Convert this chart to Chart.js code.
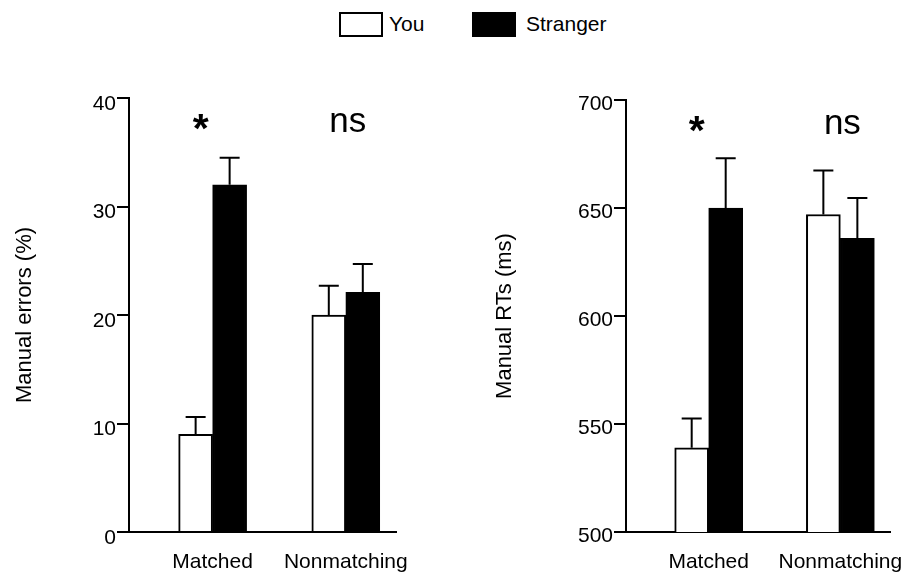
<!DOCTYPE html>
<html>
<head>
<meta charset="utf-8">
<script src="https://cdn.jsdelivr.net/npm/chart.js@4.4.1/dist/chart.umd.min.js"></script>
<style>
  body { margin: 0; background: #fff; overflow: hidden; }
  #wrap { position: relative; width: 908px; height: 573px; font-family: "Liberation Sans", Arial, sans-serif; }
  canvas { position: absolute; top: 0; }
  #left { left: 0; }
  #right { left: 454px; }
  .key { position: absolute; top: 12px; width: 40px; height: 21px; border: 2px solid #000; }
  .keyText { position: absolute; top: 11px; font-size: 21px; color: #000; line-height: 26px; }
</style>
</head>
<body>
<div id="wrap">
  <div class="key" style="left:339px; background:#fff;"></div>
  <div class="keyText" style="left:389px;">You</div>
  <div class="key" style="left:472px; background:#000;"></div>
  <div class="keyText" style="left:526px;">Stranger</div>
  <canvas id="left" width="454" height="573"></canvas>
  <canvas id="right" width="454" height="573"></canvas>
</div>
<script>
// data
const categories = ['Matched', 'Nonmatching'];
const seriesNames = ['You', 'Stranger'];

const errorsYou = [9.0, 20.0];
const errorsStranger = [32.0, 22.1];
const errorsYouSem = [1.6, 2.7];
const errorsStrangerSem = [2.5, 2.6];

const rtYou = [539, 647];
const rtStranger = [650, 636];
const rtYouSem = [13.5, 20.4];
const rtStrangerSem = [23.0, 18.6];

const sigMarks = ['*', 'ns'];

const FONT = '"Liberation Sans", Arial, sans-serif';

function points(values) {
    return values.map((v, i) => ({ x: i + 1, y: v }));
}

// draws the upward error bars with caps
const errorBars = {
    id: 'errorBars',
    afterDatasetsDraw(chart) {
        const ctx = chart.ctx;
        const yScale = chart.scales.y;
        ctx.save();
        ctx.strokeStyle = '#000';
        ctx.lineWidth = 2;
        chart.data.datasets.forEach((ds, di) => {
            const meta = chart.getDatasetMeta(di);
            meta.data.forEach((bar, i) => {
                const top = yScale.getPixelForValue(ds.data[i].y + ds.sem[i]);
                ctx.beginPath();
                ctx.moveTo(bar.x, bar.y);
                ctx.lineTo(bar.x, top);
                ctx.moveTo(bar.x - 10, top);
                ctx.lineTo(bar.x + 10, top);
                ctx.stroke();
            });
        });
        ctx.restore();
    }
};

// "*" and "ns" above each group
const sigLabels = {
    id: 'sigLabels',
    afterDraw(chart) {
        const ctx = chart.ctx;
        const xScale = chart.scales.x;
        const top = chart.chartArea.top;
        ctx.save();
        ctx.fillStyle = '#000';
        ctx.textAlign = 'center';
        ctx.textBaseline = 'alphabetic';
        sigMarks.forEach((m, i) => {
            const x = xScale.getPixelForValue(i + 1);
            if (m === '*') {
                ctx.font = 'bold 41px ' + FONT;
                ctx.fillText(m, x - 12, top + 44);
            } else {
                ctx.font = '35px ' + FONT;
                ctx.fillText(m, x + 2, top + 34);
            }
        });
        ctx.restore();
    }
};

function makeChart(id, you, stranger, youSem, strangerSem, yOpts) {
    new Chart(document.getElementById(id), {
        type: 'bar',
        data: {
            datasets: [
                {
                    label: seriesNames[0],
                    data: points(you),
                    sem: youSem,
                    backgroundColor: '#fff',
                    borderColor: '#000',
                    borderWidth: 2
                },
                {
                    label: seriesNames[1],
                    data: points(stranger),
                    sem: strangerSem,
                    backgroundColor: '#000',
                    borderColor: '#000',
                    borderWidth: 2
                }
            ]
        },
        options: {
            responsive: false,
            animation: false,
            barThickness: 34,
            layout: { padding: { top: yOpts.top, right: yOpts.right, left: 0, bottom: 0 } },
            plugins: {
                legend: { display: false },
                tooltip: { enabled: false }
            },
            scales: {
                x: {
                    type: 'linear',
                    offset: false,
                    bounds: 'data',
                    min: 0.372,
                    max: 2.377,
                    z: 1,
                    afterBuildTicks(scale) {
                        scale.ticks = categories.map((c, i) => ({ value: i + 1 }));
                    },
                    afterFit(scale) {
                        scale.height = 41;
                        scale.paddingLeft = 0;
                        scale.paddingRight = 0;
                    },
                    grid: { display: false, drawTicks: false },
                    border: { display: true, color: '#000', width: 2 },
                    ticks: {
                        autoSkip: false,
                        maxRotation: 0,
                        padding: 18,
                        color: '#000',
                        font: { family: FONT, size: 21 },
                        callback: (v) => categories[v - 1]
                    }
                },
                y: {
                    min: yOpts.min,
                    max: yOpts.max,
                    afterFit(scale) { scale.width = yOpts.axisX; },
                    grid: {
                        drawOnChartArea: false,
                        drawTicks: true,
                        tickLength: 12,
                        color: '#000',
                        lineWidth: 2
                    },
                    border: { display: true, color: '#000', width: 2 },
                    ticks: {
                        stepSize: yOpts.step,
                        padding: 1,
                        labelOffset: yOpts.labelOffset,
                        color: '#000',
                        font: { family: FONT, size: 21 }
                    },
                    title: {
                        display: true,
                        text: yOpts.title,
                        color: '#000',
                        font: { family: FONT, size: 22 },
                        padding: { top: yOpts.titlePad, bottom: 0 }
                    }
                }
            }
        },
        plugins: [errorBars, sigLabels]
    });
}

makeChart('left', errorsYou, errorsStranger, errorsYouSem, errorsStrangerSem,
    { min: 0, max: 40, step: 10, title: 'Manual errors (%)', top: 98, right: 58, axisX: 129, titlePad: 12, labelOffset: 6 });
makeChart('right', rtYou, rtStranger, rtYouSem, rtStrangerSem,
    { min: 500, max: 700, step: 50, title: 'Manual RTs (ms)', top: 100, right: 18, axisX: 172, titlePad: 38, labelOffset: 4 });
</script>
</body>
</html>
